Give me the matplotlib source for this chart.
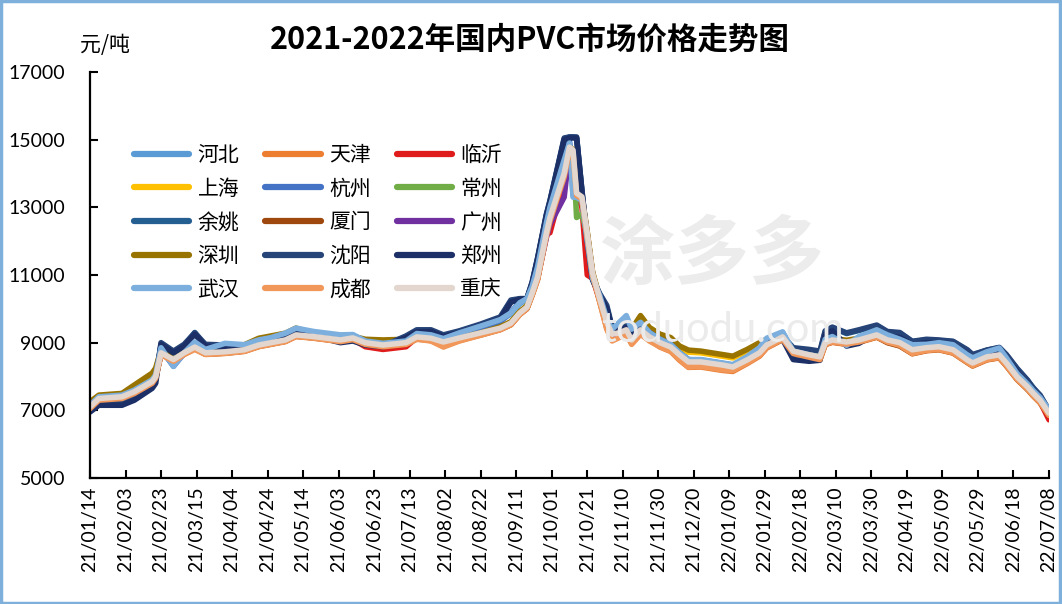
import matplotlib
matplotlib.use('Agg')
import matplotlib.pyplot as plt
import matplotlib.dates as mdates
import pandas as pd
from matplotlib.patches import Rectangle

plt.rcParams['font.family'] = ['Lato', 'Noto Sans CJK SC', 'DejaVu Sans']

# dates of the price readings
dates = ['2021-01-14', '2021-01-19', '2021-02-01', '2021-02-08', '2021-02-18', '2021-02-20',
         '2021-02-23', '2021-03-02', '2021-03-08', '2021-03-14', '2021-03-20', '2021-03-31',
         '2021-04-11', '2021-04-19', '2021-04-26', '2021-05-04', '2021-05-10', '2021-05-20',
         '2021-06-04', '2021-06-11', '2021-06-18', '2021-06-28',
         '2021-07-11', '2021-07-17', '2021-07-25', '2021-08-01', '2021-08-10', '2021-08-22',
         '2021-09-02', '2021-09-08', '2021-09-13', '2021-09-17', '2021-09-20', '2021-09-23',
         '2021-09-28', '2021-09-30',
         '2021-10-08', '2021-10-11', '2021-10-13', '2021-10-15', '2021-10-18', '2021-10-21',
         '2021-10-24', '2021-10-28',
         '2021-11-01', '2021-11-04', '2021-11-08', '2021-11-12', '2021-11-15', '2021-11-20',
         '2021-11-25',
         '2021-12-01', '2021-12-07', '2021-12-12', '2021-12-17', '2021-12-24', '2022-01-05',
         '2022-01-11',
         '2022-01-19', '2022-01-26', '2022-01-30', '2022-02-08', '2022-02-14', '2022-02-23',
         '2022-03-01',
         '2022-03-04', '2022-03-08', '2022-03-16', '2022-03-23', '2022-04-02', '2022-04-08',
         '2022-04-15',
         '2022-04-22', '2022-04-30', '2022-05-07', '2022-05-15', '2022-05-23', '2022-05-26',
         '2022-06-03', '2022-06-10',
         '2022-06-14', '2022-06-20', '2022-06-26', '2022-06-29', '2022-07-03', '2022-07-08']

hebei = [7150, 7380, 7430, 7580, 7880, 8030,
         8820, 8350, 8700, 9000, 8780, 8950,
         8920, 9060, 9130, 9250, 9400, 9300,
         9200, 9220, 9030, 8970,
         9040, 9250, 9210, 9100, 9270, 9460,
         9650, 9850, 10150, 10280, 10640, 11200, 12500, 12950,
         14350, 14850, 13350, 13300, 13150, 11950, 10880, 10380,
         9680, 9380, 9580, 9750, 9380, 9580, 9280,
         9080, 8930, 8690, 8490, 8490, 8390, 8340,
         8570, 8820, 9100, 9300, 8740, 8630, 8570,
         9080, 9160, 8950, 9160, 9350, 9210, 9080,
         8920, 8940, 8980, 8920, 8620, 8530, 8710, 8820,
         8530, 8080, 7760, 7580, 7370, 7000]
tianjin = [7080, 7320, 7370, 7520, 7820, 7970,
           8670, 8460, 8660, 8820, 8660, 8690,
           8750, 8890, 8960, 9040, 9190, 9140,
           9040, 9100, 8960, 8890,
           8960, 9110, 9060, 8900, 9060, 9230,
           9390, 9540, 9840, 10010, 10420, 10870, 12170, 12620,
           13920, 14720, 14620, 13360, 13260, 12160, 11010, 10220,
           9420, 9080, 9170, 9260, 8980, 9260, 9070,
           8870, 8740, 8480, 8270, 8280, 8180, 8150,
           8380, 8600, 8840, 9090, 8670, 8560, 8490,
           8940, 9010, 8950, 9010, 9160, 9010, 8910,
           8670, 8760, 8790, 8690, 8410, 8310, 8490, 8550,
           8310, 7910, 7610, 7430, 7220, 6830]
linyi = [7080, 7330, 7380, 7530, 7830, 7980,
         8680, 8480, 8680, 8850, 8680, 8700,
         8760, 8900, 8970, 9050, 9200, 9150,
         9050, 9100, 8880, 8800,
         8880, 9150, 9100, 8990, 9110, 9260,
         9400, 9550, 9850, 10020, 10440, 10900, 12200, 12250,
         13800, 14700, 14650, 13400, 13000, 11000, 10900, 10250,
         9550, 9200, 9250, 9330, 9050, 9330, 9130,
         8960, 8830, 8600, 8400, 8400, 8300, 8250,
         8460, 8670, 8900, 9140, 8720, 8610, 8550,
         9050, 9180, 9000, 9050, 9200, 9050, 8970,
         8760, 8820, 8850, 8760, 8460, 8370, 8550, 8610,
         8370, 7960, 7650, 7450, 7250, 6720]
shanghai = [7200, 7420, 7480, 7700, 8050, 8200,
            8780, 8500, 8700, 8950, 8730, 8800,
            8900, 9100, 9180, 9250, 9400, 9260,
            9120, 9170, 9080, 9050,
            9080, 9250, 9170, 9020, 9140, 9290,
            9450, 9600, 9900, 10080, 10500, 10950, 12250, 12700,
            14000, 14780, 14690, 13420, 13310, 12240, 11060, 10300,
            9620, 9330, 9420, 9580, 9350, 9700, 9420,
            9200, 9100, 8850, 8720, 8700, 8600, 8550,
            8750, 8950, 9050, 9220, 8750, 8650, 8600,
            9030, 9110, 9050, 9110, 9260, 9110, 9030,
            8850, 8910, 8940, 8850, 8550, 8460, 8640, 8700,
            8430, 8020, 7720, 7540, 7330, 6950]
hangzhou = [7100, 7330, 7400, 7550, 7850, 8000,
            8800, 8300, 8680, 8980, 8750, 8900,
            8900, 9050, 9100, 9220, 9380, 9280,
            9180, 9200, 9020, 8950,
            9050, 9230, 9200, 9080, 9250, 9430,
            9620, 9900, 10200, 10300, 10700, 11300, 12600, 13050,
            14500, 14950, 14200, 13400, 13250, 12100, 10950, 10350,
            9650, 9350, 9500, 9650, 9350, 9500, 9250,
            9050, 8920, 8680, 8480, 8480, 8380, 8330,
            8550, 8780, 9050, 9250, 8700, 8620, 8560,
            9150, 9250, 8980, 9150, 9330, 9200, 9080,
            8900, 8930, 8960, 8900, 8600, 8520, 8700, 8800,
            8520, 8070, 7750, 7570, 7360, 6980]
changzhou = [7090, 7340, 7390, 7540, 7840, 7990,
             8690, 8490, 8690, 8860, 8690, 8720,
             8780, 8920, 8990, 9070, 9220, 9170,
             9070, 9130, 8990, 8920,
             8990, 9160, 9120, 9010, 9130, 9280,
             9420, 9570, 9870, 10040, 10460, 10930, 12230, 12690,
             13990, 14770, 14680, 12700, 12800, 12200, 11050, 10290,
             9590, 9240, 9280, 9370, 9070, 9370, 9160,
             8990, 8860, 8630, 8420, 8420, 8330, 8270,
             8480, 8690, 8920, 9160, 8740, 8630, 8570,
             8990, 9070, 9010, 9070, 9220, 9070, 8990,
             8780, 8840, 8870, 8780, 8480, 8390, 8570, 8630,
             8390, 7980, 7680, 7500, 7290, 6910]
yuyao = [7050, 7300, 7350, 7500, 7800, 7950,
         8950, 8700, 8900, 9300, 8900, 8900,
         8880, 9000, 9080, 9150, 9280, 9220,
         9050, 9100, 8980, 8900,
         9180, 9350, 9350, 9200, 9330, 9520,
         9720, 10200, 10300, 10300, 10780, 11480, 12780, 13180,
         15000, 15080, 15080, 15050, 13480, 12020, 10880, 10420,
         10050, 9420, 9380, 9480, 9230, 9430, 9280,
         9080, 8930, 8680, 8480, 8470, 8370, 8310,
         8530, 8730, 8980, 9180, 8800, 8750, 8700,
         9330, 9440, 9270, 9360, 9500, 9310, 9280,
         9030, 9080, 9060, 9030, 8770, 8630, 8780, 8850,
         8630, 8230, 7870, 7680, 7430, 6990]
xiamen = [7070, 7310, 7360, 7510, 7810, 7960,
          8660, 8460, 8660, 8830, 8660, 8690,
          8750, 8890, 8960, 9040, 9190, 9140,
          9040, 9100, 8950, 8880,
          8960, 9120, 9080, 8950, 9080, 9230,
          9390, 9530, 9840, 10000, 10420, 10880, 12180, 12640,
          13950, 14730, 14640, 13380, 13270, 12180, 11020, 10240,
          9500, 9150, 9200, 9300, 9000, 9300, 9100,
          8920, 8790, 8560, 8350, 8350, 8250, 8200,
          8420, 8630, 8860, 9100, 8680, 8580, 8510,
          8950, 9020, 8960, 9020, 9170, 9000, 8900,
          8680, 8770, 8800, 8700, 8420, 8320, 8500, 8560,
          8320, 7920, 7620, 7440, 7230, 6850]
guangzhou = [7090, 7340, 7390, 7540, 7840, 7990,
             8690, 8490, 8690, 8860, 8690, 8720,
             8780, 8920, 8990, 9070, 9220, 9170,
             9070, 9130, 8990, 8920,
             8990, 9160, 9120, 9010, 9130, 9280,
             9420, 9570, 9870, 10040, 10460, 10930, 12100, 12500,
             13300, 14700, 14650, 13400, 13300, 12230, 11050, 10290,
             9590, 9240, 9280, 9370, 9070, 9370, 9160,
             8990, 8860, 8630, 8420, 8420, 8330, 8270,
             8480, 8690, 8920, 9160, 8740, 8630, 8570,
             8990, 9070, 9010, 9070, 9220, 9070, 8990,
             8780, 8840, 8870, 8780, 8480, 8390, 8570, 8630,
             8390, 7980, 7680, 7500, 7290, 6910]
shenzhen = [7250, 7450, 7500, 7750, 8100, 8250,
            8800, 8500, 8700, 8970, 8750, 8810,
            8940, 9130, 9200, 9280, 9430, 9280,
            9130, 9190, 9100, 9080,
            9100, 9270, 9180, 9020, 9140, 9290,
            9470, 9620, 9920, 10090, 10510, 10980, 12280, 12740,
            14040, 14800, 14700, 13450, 13340, 12270, 11090, 10330,
            9650, 9350, 9450, 9600, 9400, 9800, 9450,
            9250, 9150, 8900, 8780, 8750, 8650, 8600,
            8800, 9000, 9100, 9250, 8750, 8650, 8600,
            9050, 9130, 9070, 9130, 9280, 9130, 9050,
            8870, 8930, 8960, 8870, 8570, 8480, 8660, 8720,
            8450, 8040, 7740, 7560, 7350, 6970]
shenyang = [7000, 7250, 7300, 7450, 7750, 7900,
            9000, 8750, 8950, 9290, 8950, 8930,
            8900, 9030, 9100, 9180, 9300, 9250,
            9050, 9100, 8950, 8900,
            9200, 9380, 9380, 9230, 9350, 9550,
            9760, 10260, 10300, 10300, 10800, 11500, 12800, 13200,
            15050, 15080, 15080, 15080, 13500, 12050, 10900, 10450,
            10100, 9450, 9400, 9500, 9250, 9450, 9300,
            9100, 8950, 8700, 8500, 8480, 8380, 8320,
            8550, 8750, 9000, 9200, 8850, 8800, 8750,
            9350, 9460, 9290, 9380, 9520, 9330, 9300,
            9040, 9100, 9080, 9040, 8790, 8650, 8780, 8860,
            8650, 8240, 7890, 7660, 7450, 7000]
zhengzhou = [6950, 7150, 7150, 7300, 7650, 7800,
             8950, 8700, 8900, 9250, 8900, 8850,
             8850, 8980, 9050, 9100, 9250, 9200,
             9000, 9050, 8930, 8880,
             9150, 9320, 9330, 9180, 9300, 9500,
             9700, 10200, 10280, 10300, 10750, 11450, 12750, 13150,
             15000, 15050, 15050, 15050, 13450, 12000, 10850, 10400,
             10000, 9400, 9350, 9450, 9200, 9400, 9250,
             9050, 8900, 8650, 8450, 8450, 8350, 8300,
             8500, 8700, 8950, 9100, 8500, 8450, 8480,
             9250, 9350, 8900, 8980, 9300, 9200, 9150,
             8950, 9000, 9000, 8950, 8650, 8500, 8700, 8780,
             8550, 8150, 7620, 7600, 7380, 6950]
wuhan = [7150, 7400, 7450, 7600, 7900, 8050,
         8850, 8300, 8700, 9020, 8800, 8980,
         8940, 9080, 9150, 9280, 9430, 9330,
         9230, 9240, 9050, 8980,
         9050, 9270, 9230, 9120, 9290, 9490,
         9680, 9880, 10180, 10300, 10670, 11240, 12540, 13000,
         14400, 14900, 13300, 13300, 13200, 12000, 10900, 10400,
         9700, 9400, 9600, 9800, 9400, 9600, 9300,
         9100, 8950, 8700, 8500, 8500, 8400, 8350,
         8590, 8850, 9130, 9320, 8750, 8640, 8580,
         9100, 9180, 8920, 9180, 9380, 9230, 9100,
         8940, 8950, 9000, 8940, 8640, 8550, 8730, 8840,
         8550, 8090, 7770, 7590, 7380, 7020]
chengdu = [7050, 7300, 7350, 7500, 7800, 7950,
           8650, 8450, 8650, 8800, 8650, 8680,
           8740, 8880, 8950, 9030, 9180, 9130,
           9030, 9090, 8950, 8880,
           8950, 9100, 9050, 8870, 9050, 9220,
           9380, 9530, 9830, 10000, 10400, 10850, 12150, 12600,
           13900, 14700, 14600, 13350, 13250, 12150, 11000, 10200,
           9400, 9050, 9150, 9250, 8950, 9250, 9050,
           8880, 8750, 8500, 8280, 8300, 8200, 8180,
           8400, 8620, 8850, 9100, 8680, 8570, 8500,
           8950, 9020, 8960, 9020, 9170, 9020, 8920,
           8680, 8770, 8800, 8700, 8420, 8320, 8500, 8560,
           8320, 7920, 7620, 7440, 7230, 6850]
chongqing = [7100, 7350, 7400, 7550, 7850, 8000,
             8700, 8500, 8700, 8870, 8700, 8730,
             8790, 8930, 9000, 9080, 9230, 9180,
             9080, 9140, 9000, 8930,
             9000, 9170, 9130, 9020, 9140, 9290,
             9430, 9580, 9880, 10050, 10470, 10940, 12240, 12700,
             14000, 14780, 14690, 13420, 13310, 12240, 11060, 10300,
             9600, 9250, 9290, 9380, 9080, 9380, 9170,
             9000, 8870, 8640, 8430, 8430, 8340, 8280,
             8490, 8700, 8930, 9170, 8750, 8640, 8580,
             9000, 9080, 9020, 9080, 9230, 9080, 9000,
             8790, 8850, 8880, 8790, 8490, 8400, 8580, 8640,
             8400, 7990, 7690, 7510, 7300, 6920]

names = ['河北', '天津', '临沂', '上海', '杭州', '常州', '余姚', '厦门', '广州',
         '深圳', '沈阳', '郑州', '武汉', '成都', '重庆']
series = [hebei, tianjin, linyi, shanghai, hangzhou, changzhou, yuyao, xiamen, guangzhou,
          shenzhen, shenyang, zhengzhou, wuhan, chengdu, chongqing]
colors = ['#5B9BD5', '#ED7D31', '#E01B1B', '#FFC000', '#4472C4', '#70AD47', '#255E91',
          '#9E480E', '#7030A0', '#997300', '#264478', '#1C2F66', '#7CAFDD', '#F1975A',
          '#E2D6CE']

x = pd.to_datetime(dates)

fig = plt.figure(figsize=(10.62, 6.04), dpi=100)
ax = fig.add_axes([90 / 1062, 126 / 604, 959 / 1062, 406 / 604])

# watermark
fig.text(0.67, 1 - 256 / 604, '涂多多', fontsize=54, color='#ececec', fontweight='bold',
         family=['Noto Sans CJK SC'], ha='center', va='center', zorder=0)
fig.text(0.68, 1 - 330 / 604, 'toduodu.com', fontsize=30, color='#ebebeb',
         ha='center', va='center', zorder=0)

lines = []
for vals, name, c in zip(series, names, colors):
    ln, = ax.plot(x, vals, color=c, lw=4, label=name, solid_joinstyle='round',
                  solid_capstyle='round')
    lines.append(ln)

ax.set_ylim(5000, 17000)
ax.set_yticks(range(5000, 17001, 2000))
ax.set_xlim(pd.Timestamp('2021-01-14'), pd.Timestamp('2022-07-08'))
ax.set_xticks(pd.date_range('2021-01-14', '2022-07-08', freq='20D'))
ax.xaxis.set_major_formatter(mdates.DateFormatter('%y/%m/%d'))
ax.patch.set_alpha(0)

for s in ['top', 'right']:
    ax.spines[s].set_visible(False)
for s in ['left', 'bottom']:
    ax.spines[s].set_linewidth(1.6)
ax.tick_params(direction='in', length=6, width=1.5, labelsize=14, colors='black')
ax.tick_params(axis='x', rotation=90, pad=6)
ax.tick_params(axis='y', pad=18)

fig.text(530 / 1062, 1 - 40 / 604, '2021-2022年国内PVC市场价格走势图', fontsize=22,
         fontweight='bold', family=['Noto Sans CJK SC'], ha='center', va='center')
fig.text(80 / 1062, 1 - 45 / 604, '元/吨', fontsize=15, family=['Noto Sans CJK SC'],
         ha='left', va='center')

# legend reads row by row, matplotlib fills column by column
order = [0, 3, 6, 9, 12, 1, 4, 7, 10, 13, 2, 5, 8, 11, 14]
leg = ax.legend([lines[i] for i in order], [names[i] for i in order],
                ncol=3, loc='upper left', bbox_to_anchor=(134 / 1062, 1 - 144 / 604),
                bbox_transform=fig.transFigure, frameon=False, borderpad=0,
                borderaxespad=0, handlelength=2.65, handletextpad=0.4,
                columnspacing=1.25, labelspacing=0.56,
                prop={'family': 'Noto Sans CJK SC', 'size': 15})
for h in leg.get_lines():
    h.set_linewidth(4.5)

fig.patches.append(Rectangle((0.001, 0.002), 0.997, 0.996, transform=fig.transFigure,
                             fill=False, edgecolor='#7FB0DC', lw=2.5))

plt.savefig('out.png')
